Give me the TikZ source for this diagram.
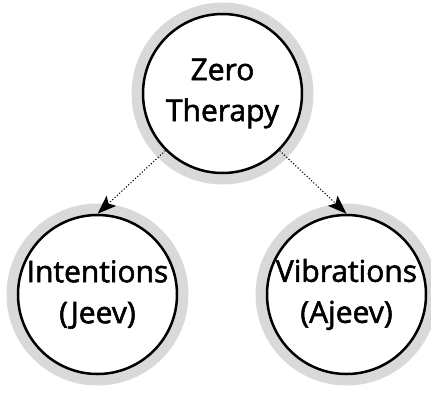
\documentclass[tikz,border=0pt]{standalone}
\usepackage{fontspec}
\setmainfont{Open Sans}[FakeBold=1.8]
\usetikzlibrary{arrows.meta}
\definecolor{ringgray}{HTML}{D9D9D9}
\begin{document}
\begin{tikzpicture}[x=1pt,y=-1pt,
  topic/.style={circle, draw=black, line width=2.5pt, fill=white, minimum size=159pt, inner sep=0pt, align=center,
    font=\fontsize{30}{41}\selectfont, preaction={draw=ringgray, line width=23pt}},
  link/.style={dotted, line width=1.1pt, -{Stealth[length=19pt,width=14pt,inset=4pt,line width=0pt]}}]
\useasboundingbox (0,0) rectangle (431,394);
\clip (0,0) rectangle (431,394);
\node[topic] (zero) at (222.5,93.5) {Zero\\Therapy};
\node[topic] (jeev) at (97.5,294.5) {Intentions\\(Jeev)};
\node[topic] (ajeev) at (346.5,294.5) {Vibrations\\(Ajeev)};
\draw[link] (zero.south west) -- (jeev.north);
\draw[link] (zero.south east) -- (ajeev.north);
\end{tikzpicture}
\end{document}
